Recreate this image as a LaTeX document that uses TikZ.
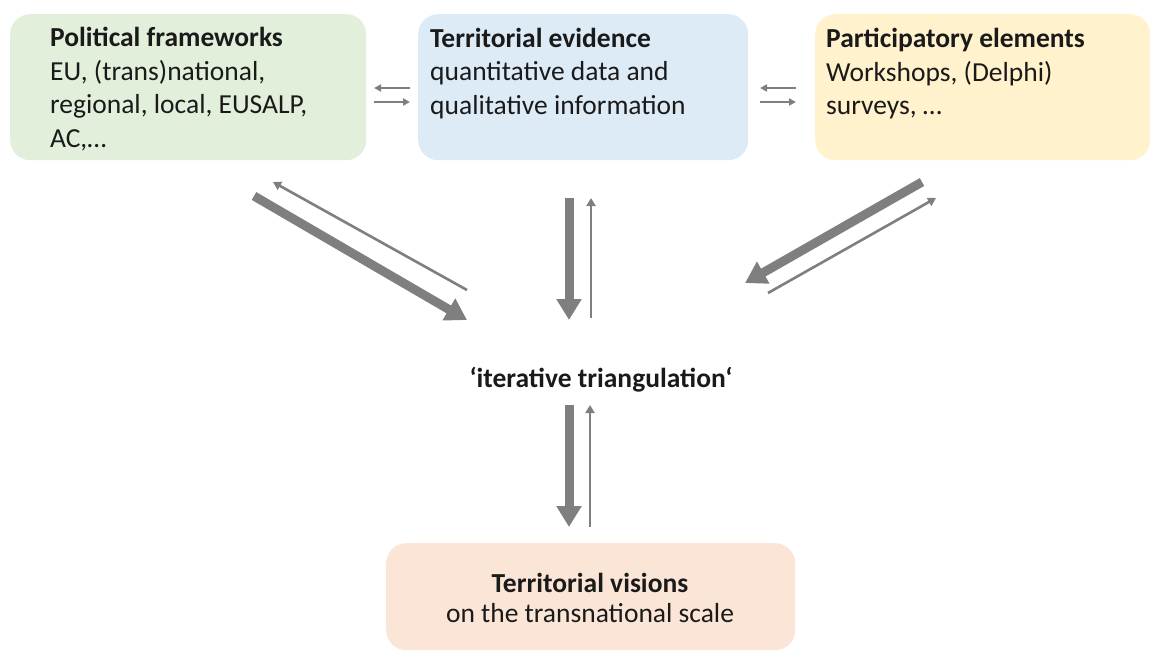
\documentclass[tikz,border=0pt]{standalone}
\usepackage{fontspec}
\setmainfont{Carlito}
\usetikzlibrary{arrows.meta,calc}
\definecolor{greenbox}{HTML}{E2EFDA}
\definecolor{bluebox}{HTML}{DDEBF7}
\definecolor{yellowbox}{HTML}{FFF2CC}
\definecolor{peachbox}{HTML}{FBE5D6}
\definecolor{arrowc}{HTML}{7F7F7F}
\definecolor{inkc}{HTML}{1A1A1A}
\begin{document}
\begin{tikzpicture}[x=1pt, y=-1pt,
  box/.style={rounded corners=20pt, inner sep=0pt, anchor=north west},
  boxtext/.style={inner sep=0pt, anchor=north west, align=left, text=inkc,
    font=\fontsize{27.5}{33.5}\selectfont},
  bigarrow/.style={arrowc, line width=9pt, -{Triangle[width=24pt,length=21pt]}},
  thinarrow/.style={arrowc, line width=2.6pt, -{Triangle[width=9pt,length=8pt]}},
  smallarrow/.style={arrowc, line width=2pt, -{Triangle[width=7pt,length=7pt]}}]
  \useasboundingbox (0,0) rectangle (1150,653);
  \node[box, fill=greenbox, minimum width=356pt, minimum height=146pt] (pol) at (10,14) {};
  \node[box, fill=bluebox, minimum width=330pt, minimum height=146pt] (evi) at (418,14) {};
  \node[box, fill=yellowbox, minimum width=335pt, minimum height=146pt] (par) at (815,14) {};
  \node[box, fill=peachbox, minimum width=409pt, minimum height=107pt] (vis) at (386,543) {};
  \node[boxtext] (poltxt) at ($(pol.north west)+(40,13)$)
    {\textbf{Political frameworks}\\EU, (trans)national,\\regional, local, EUSALP,\\AC,…};
  \node[boxtext] (evitxt) at ($(evi.north west)+(12,14)$)
    {\textbf{Territorial evidence}\\quantitative data and\\qualitative information};
  \node[boxtext] (partxt) at ($(par.north west)+(11,14)$)
    {\textbf{Participatory elements}\\Workshops, (Delphi)\\surveys, …};
  \node[inner sep=0pt, align=center, text=inkc, font=\fontsize{27.5}{29.5}\selectfont] (vistxt) at (590,598)
    {\textbf{Territorial visions}\\on the transnational scale};
  \node[inner sep=0pt, text=inkc, font=\fontsize{27.5}{33}\selectfont\bfseries] (tri) at (601,380)
    {‘iterative triangulation‘};
  \coordinate (lpa) at (410,88);
  \coordinate (lpb) at (374,88);
  \coordinate (lpc) at (374,102);
  \coordinate (lpd) at (410,102);
  \coordinate (rpa) at (796,88);
  \coordinate (rpb) at (760,88);
  \coordinate (rpc) at (760,102);
  \coordinate (rpd) at (796,102);
  \draw[smallarrow] (lpa) -- (lpb);
  \draw[smallarrow] (lpc) -- (lpd);
  \draw[smallarrow] (rpa) -- (rpb);
  \draw[smallarrow] (rpc) -- (rpd);
  \coordinate (la) at (254,196);
  \coordinate (lb) at (467,320);
  \coordinate (lc) at (467,290);
  \coordinate (ld) at (273,182);
  \draw[bigarrow] (la) -- (lb);
  \draw[thinarrow] (lc) -- (ld);
  \coordinate (ma) at (569,198);
  \coordinate (mb) at (569,320);
  \coordinate (mc) at (591,318);
  \coordinate (md) at (591,198);
  \draw[bigarrow] (ma) -- (mb);
  \draw[thinarrow] (mc) -- (md);
  \coordinate (ra) at (922,182);
  \coordinate (rb) at (745,283);
  \coordinate (rc) at (768,293);
  \coordinate (rd) at (936,198);
  \draw[bigarrow] (ra) -- (rb);
  \draw[thinarrow] (rc) -- (rd);
  \coordinate (ba) at (569,405);
  \coordinate (bb) at (569,527);
  \coordinate (bc) at (590,527);
  \coordinate (bd) at (590,405);
  \draw[bigarrow] (ba) -- (bb);
  \draw[thinarrow] (bc) -- (bd);
\end{tikzpicture}
\end{document}
